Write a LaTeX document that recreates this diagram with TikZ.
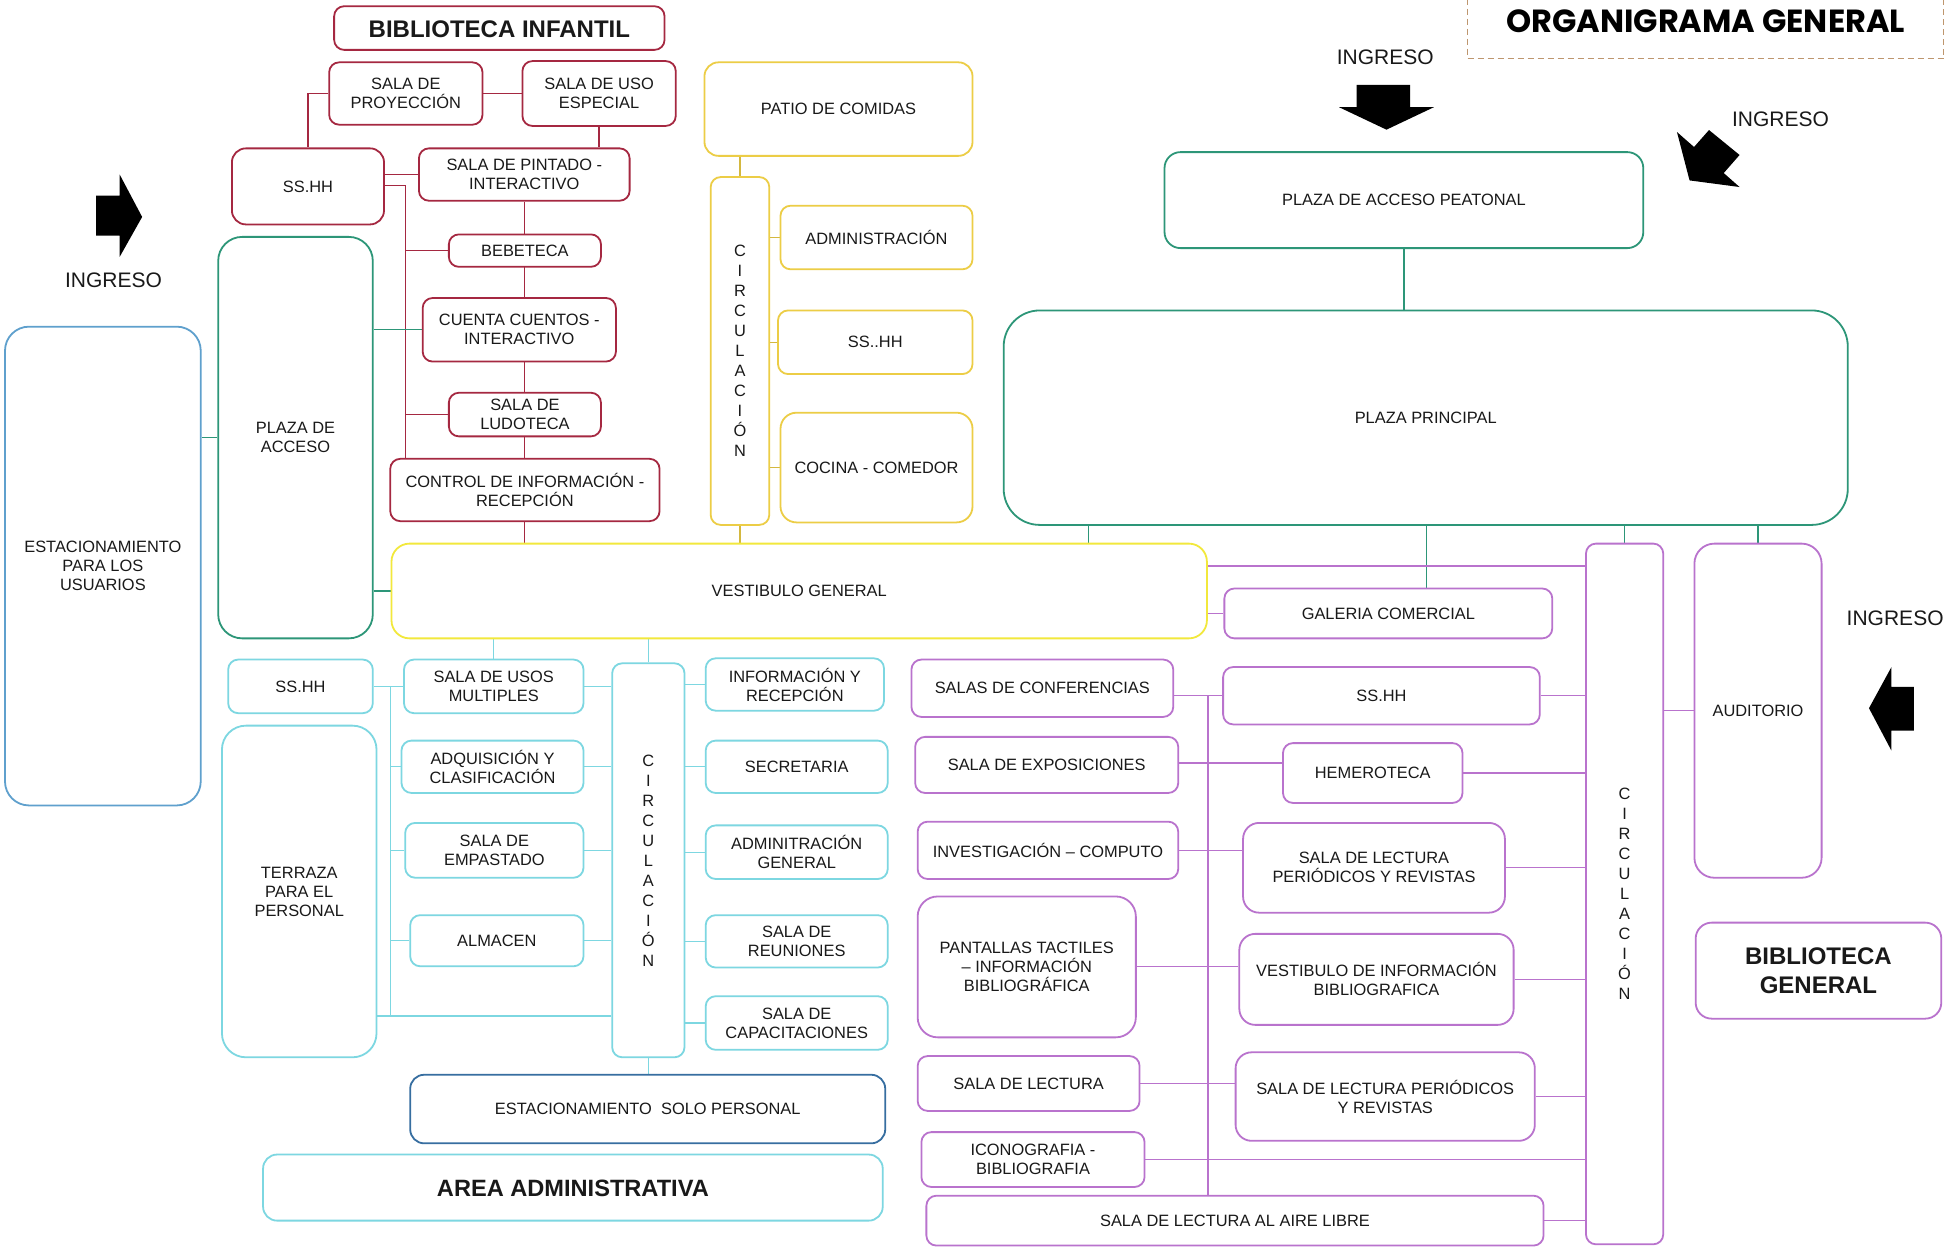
\documentclass[tikz,border=0pt]{standalone}
\usepackage{fontspec}
\setmainfont{Liberation Sans}
\newfontfamily\titlefont{Poppins}
\usetikzlibrary{fit}
\definecolor{cred}{RGB}{165,40,65}
\definecolor{cyel}{RGB}{236,205,70}
\definecolor{cyelb}{RGB}{242,232,60}
\definecolor{cteal}{RGB}{45,150,120}
\definecolor{cblue}{RGB}{95,160,205}
\definecolor{ccyan}{RGB}{125,215,225}
\definecolor{cdblue}{RGB}{55,110,160}
\definecolor{cpur}{RGB}{185,115,205}
\definecolor{ctxt}{RGB}{25,25,25}
\definecolor{ctitle}{RGB}{190,150,110}
\pgfdeclarelayer{bg}
\pgfsetlayers{bg,main}
\tikzset{
 bx/.style={draw, fill=white, line width=0.9pt, inner sep=0pt, align=center, text=ctxt, font=\fontsize{8.2}{9.5}\selectfont, rounded corners=5pt},
 rb/.style={bx, draw=cred},
 yb/.style={bx, draw=cyel},
 tb/.style={bx, draw=cteal},
 cb/.style={bx, draw=ccyan},
 pb/.style={bx, draw=cpur},
 circtxt/.style={font=\fontsize{8.2}{10}\selectfont},
 bigr/.style={rounded corners=12pt},
 rl/.style={draw=cred, line width=0.7pt},
 yl/.style={draw=cyel!90!black, line width=0.7pt},
 tl/.style={draw=cteal, line width=0.7pt},
 cl/.style={draw=ccyan, line width=0.7pt},
 pl/.style={draw=cpur, line width=0.7pt},
 ing/.style={font=\fontsize{10.5}{12}\selectfont, text=ctxt, inner sep=0pt},
 arr/.style={fill=black, draw=none},
}
% \mkb[text shift]{name}{x1}{y1}{x2}{y2}{style}{text}
\newcommand\mkb[8][0pt]{%
  \node[#7, fit={(#3,#4) (#5,#6)}] (#2) {};%
  \node[#7, draw=none, fill=none, yshift=-#1] at (#2.center) {#8};%
}
\begin{document}
\begin{tikzpicture}[x=0.6234pt, y=-0.6234pt]
\useasboundingbox (0,0) rectangle (1568,1002);
\begin{pgfonlayer}{bg}
\fill[white] (0,0) rectangle (1568,1002);
\end{pgfonlayer}

% title
\mkb[-3pt]{title}{1177}{-4}{1559}{47}{draw=ctitle, densely dashed, line width=0.6pt, fill=white, inner sep=0pt, text=black, font=\titlefont\bfseries\fontsize{16}{18}\selectfont}{ORGANIGRAMA GENERAL}

% ingreso labels and arrows
\node[ing] (ing1) at (1111,46) {INGRESO};
\node[ing] (ing2) at (1428,96) {INGRESO};
\node[ing] (ing3) at (91,225) {INGRESO};
\node[ing] (ing4) at (1520,496) {INGRESO};
\fill[arr] (1088,68) -- (1131,68) -- (1131,86) -- (1150,86) -- (1112,104) -- (1074,86) -- (1088,86) -- cycle;
\fill[arr] (1370.7,104.3) -- (1395.2,124.3) -- (1382.5,138.8) -- (1395.2,150.0) -- (1355.1,144.7) -- (1345.0,105.9) -- (1358.7,117.9) -- cycle;
\fill[arr] (77,157) -- (96,157) -- (96,140) -- (114,174) -- (96,206) -- (96,189) -- (77,189) -- cycle;
\fill[arr] (1535,551) -- (1517,551) -- (1517,535) -- (1499,568) -- (1517,602) -- (1517,586) -- (1535,586) -- cycle;

% red group
\mkb[0.5pt]{bi}{268}{5}{533}{40}{rb, font=\bfseries\fontsize{12}{14}\selectfont}{BIBLIOTECA INFANTIL}
\mkb{proy}{264}{50}{387}{100}{rb}{SALA DE\\PROYECCIÓN}
\mkb{usoesp}{419}{49}{542}{101}{rb}{SALA DE USO\\ESPECIAL}
\mkb{ssr}{186}{119}{308}{180}{rb, rounded corners=7pt}{SS.HH}
\mkb{pint}{336}{119}{505}{161}{rb}{SALA DE PINTADO -\\INTERACTIVO}
\mkb{bebe}{360}{188}{482}{214}{rb}{BEBETECA}
\mkb{cuen}{339}{239}{494}{290}{rb}{CUENTA CUENTOS -\\INTERACTIVO}
\mkb{ludo}{360}{315}{482}{350}{rb}{SALA DE\\LUDOTECA}
\mkb{ctrl}{313}{368}{529}{418}{rb}{CONTROL DE INFORMACIÓN -\\RECEPCIÓN}

% left plazas
\mkb{pacc}{175}{190}{299}{512}{tb, bigr}{PLAZA DE\\ACCESO}
\mkb{estu}{4}{262}{161}{646}{bx, draw=cblue, bigr}{ESTACIONAMIENTO\\PARA LOS\\USUARIOS}

% yellow group
\mkb{patio}{565}{50}{780}{125}{yb, rounded corners=7pt}{PATIO DE COMIDAS}
\mkb{circy}{570}{142}{617}{421}{yb, circtxt}{C\\I\\R\\C\\U\\L\\A\\C\\I\\Ó\\N}
\mkb{admin}{626}{165}{780}{216}{yb}{ADMINISTRACIÓN}
\mkb{sshy}{624}{249}{780}{300}{yb}{SS..HH}
\mkb{cocina}{626}{331}{780}{419}{yb, rounded corners=8pt}{COCINA - COMEDOR}
\mkb{vest}{314}{436}{968}{512}{bx, draw=cyelb, rounded corners=9pt}{VESTIBULO GENERAL}

% teal plazas
\mkb{pea}{934}{122}{1318}{199}{tb, rounded corners=8pt}{PLAZA DE ACCESO PEATONAL}
\mkb{ppal}{805}{249}{1482}{421}{tb, rounded corners=18pt}{PLAZA PRINCIPAL}

% purple group
\mkb{circp}{1272}{436}{1334}{998}{pb, circtxt}{C\\I\\R\\C\\U\\L\\A\\C\\I\\Ó\\N}
\mkb{aud}{1359}{436}{1461}{704}{pb, rounded corners=10pt}{AUDITORIO}
\mkb{gal}{982}{472}{1245}{512}{pb}{GALERIA COMERCIAL}
\mkb{bg}{1360}{740}{1557}{817}{pb, rounded corners=8pt, font=\bfseries\fontsize{12}{14.3}\selectfont}{BIBLIOTECA\\GENERAL}
\mkb{conf}{731}{529}{941}{575}{pb}{SALAS DE CONFERENCIAS}
\mkb{expo}{734}{591}{945}{636}{pb}{SALA DE EXPOSICIONES}
\mkb{inv}{736}{659}{945}{705}{pb}{INVESTIGACIÓN -- COMPUTO}
\mkb{pant}{736}{719}{911}{832}{pb, rounded corners=10pt}{PANTALLAS TACTILES\\-- INFORMACIÓN\\BIBLIOGRÁFICA}
\mkb{lect}{736}{847}{914}{891}{pb}{SALA DE LECTURA}
\mkb{icon}{739}{908}{918}{952}{pb}{ICONOGRAFIA -\\BIBLIOGRAFIA}
\mkb{aire}{743}{959}{1238}{999}{pb}{SALA DE LECTURA AL AIRE LIBRE}
\mkb{sshp}{981}{535}{1235}{581}{pb}{SS.HH}
\mkb{heme}{1029}{596}{1173}{644}{pb}{HEMEROTECA}
\mkb{lper}{997}{660}{1207}{732}{pb, rounded corners=8pt}{SALA DE LECTURA\\PERIÓDICOS Y REVISTAS}
\mkb{vinf}{994}{749}{1214}{822}{pb, rounded corners=8pt}{VESTIBULO DE INFORMACIÓN\\BIBLIOGRAFICA}
\mkb{lper2}{991}{844}{1231}{915}{pb, rounded corners=8pt}{SALA DE LECTURA PERIÓDICOS\\Y REVISTAS}

% admin group
\mkb{sst}{183}{529}{299}{572}{cb}{SS.HH}
\mkb{terr}{178}{582}{302}{848}{cb, bigr}{TERRAZA\\PARA EL\\PERSONAL}
\mkb{usos}{324}{529}{468}{572}{cb}{SALA DE USOS\\MULTIPLES}
\mkb{adq}{322}{594}{468}{636}{cb}{ADQUISICIÓN Y\\CLASIFICACIÓN}
\mkb{emp}{325}{660}{468}{704}{cb}{SALA DE\\EMPASTADO}
\mkb{alm}{329}{734}{468}{775}{cb}{ALMACEN}
\mkb{circt}{491}{532}{549}{848}{cb, circtxt}{C\\I\\R\\C\\U\\L\\A\\C\\I\\Ó\\N}
\mkb{info}{566}{528}{709}{570}{cb}{INFORMACIÓN Y\\RECEPCIÓN}
\mkb{secr}{566}{594}{712}{636}{cb}{SECRETARIA}
\mkb{adg}{566}{662}{712}{705}{cb}{ADMINITRACIÓN\\GENERAL}
\mkb{reun}{566}{734}{712}{776}{cb}{SALA DE\\REUNIONES}
\mkb{capa}{566}{799}{712}{842}{cb}{SALA DE\\CAPACITACIONES}
\mkb{estp}{329}{862}{710}{917}{bx, draw=cdblue, rounded corners=7pt}{ESTACIONAMIENTO\ \ SOLO PERSONAL}
\mkb[0.5pt]{aadm}{211}{926}{708}{979}{cb, rounded corners=7pt, font=\bfseries\fontsize{11.8}{14}\selectfont}{AREA ADMINISTRATIVA}

\begin{pgfonlayer}{bg}
% red connectors
\draw[rl] (proy.west) -| (ssr.north);
\draw[rl] (proy.east) -- (proy.east -| usoesp.west);
\draw[rl] (usoesp.south) -- (usoesp.south |- pint.north);
\draw[rl] (ssr.east |- pint.west) -- (pint.west);
\coordinate (rbus) at (325,149);
\draw[rl] (ssr.east |- rbus) -- (rbus) -- (rbus |- ctrl.north);
\draw[rl] (rbus |- bebe.west) -- (bebe.west);
\draw[rl] (rbus |- ludo.west) -- (ludo.west);
\draw[rl] (rbus |- cuen.west) -- (cuen.west);
\draw[rl] (pint.south) -- (pint.south |- vest.north);
% teal left
\draw[tl] (pacc.east |- cuen.west) -- (cuen.west);
\draw[tl] (estu.east |- pacc.west) -- (pacc.west);
\draw[tl] (pacc.east |- vest.west) -- (vest.west);
% yellow
\draw[yl] (circy.north |- patio.south) -- (circy.north);
\draw[yl] (circy.east |- admin.west) -- (admin.west);
\draw[yl] (circy.east |- sshy.west) -- (sshy.west);
\draw[yl] (circy.east |- cocina.west) -- (cocina.west);
\draw[yl] (circy.south) -- (circy.south |- vest.north);
% teal plazas
\draw[tl] (pea.south) -- (pea.south |- ppal.north);
\coordinate (pp1) at (873,0);
\coordinate (pp2) at (1144,0);
\draw[tl] (ppal.south -| pp1) -- (vest.north -| pp1);
\draw[tl] (ppal.south -| pp2) -- (gal.north -| pp2);
\draw[tl] (ppal.south -| circp.north) -- (circp.north);
\draw[tl] (ppal.south -| aud.north) -- (aud.north);
% purple
\coordinate (vp) at (968,454);
\draw[pl] (vp) -- (vp -| circp.west);
\draw[pl] (gal.west -| vest.east) -- (gal.west);
\draw[pl] (aud.west -| circp.east) -- (aud.west);
\coordinate (pbus) at (969,558);
\draw[pl] (conf.east |- pbus) -- (sshp.west |- pbus);
\draw[pl] (pbus) -- (pbus |- aire.north);
\coordinate (pe) at (0,612);
\draw[pl] (expo.east |- pe) -- (heme.west |- pe);
\draw[pl] (inv.east) -- (inv.east -| lper.west);
\coordinate (pv) at (0,775);
\draw[pl] (pant.east |- pv) -- (vinf.west |- pv);
\draw[pl] (lect.east) -- (lect.east -| lper2.west);
\draw[pl] (icon.east) -- (icon.east -| circp.west);
\draw[pl] (sshp.east) -- (sshp.east -| circp.west);
\draw[pl] (heme.east) -- (heme.east -| circp.west);
\draw[pl] (lper.east) -- (lper.east -| circp.west);
\draw[pl] (vinf.east) -- (vinf.east -| circp.west);
\draw[pl] (lper2.east) -- (lper2.east -| circp.west);
\draw[pl] (aire.east) -- (aire.east -| circp.west);
% admin
\draw[cl] (usos.north) -- (usos.north |- vest.south);
\draw[cl] (circt.north) -- (circt.north |- vest.south);
\draw[cl] (sst.east) -- (usos.west);
\coordinate (cbus) at (313,551);
\coordinate (cbot) at (313,815);
\draw[cl] (cbus) -- (cbot);
\draw[cl] (terr.east |- cbot) -- (circt.west |- cbot);
\draw[cl] (cbus |- adq.west) -- (adq.west);
\draw[cl] (cbus |- emp.west) -- (emp.west);
\draw[cl] (cbus |- alm.west) -- (alm.west);
\draw[cl] (usos.east) -- (usos.east -| circt.west);
\draw[cl] (adq.east) -- (adq.east -| circt.west);
\draw[cl] (emp.east) -- (emp.east -| circt.west);
\draw[cl] (alm.east) -- (alm.east -| circt.west);
\draw[cl] (circt.east |- info.west) -- (info.west);
\draw[cl] (circt.east |- secr.west) -- (secr.west);
\draw[cl] (circt.east |- adg.west) -- (adg.west);
\draw[cl] (circt.east |- reun.west) -- (reun.west);
\draw[cl] (circt.east |- capa.west) -- (capa.west);
\draw[cl] (circt.south) -- (circt.south |- estp.north);
\end{pgfonlayer}
\end{tikzpicture}
\end{document}
